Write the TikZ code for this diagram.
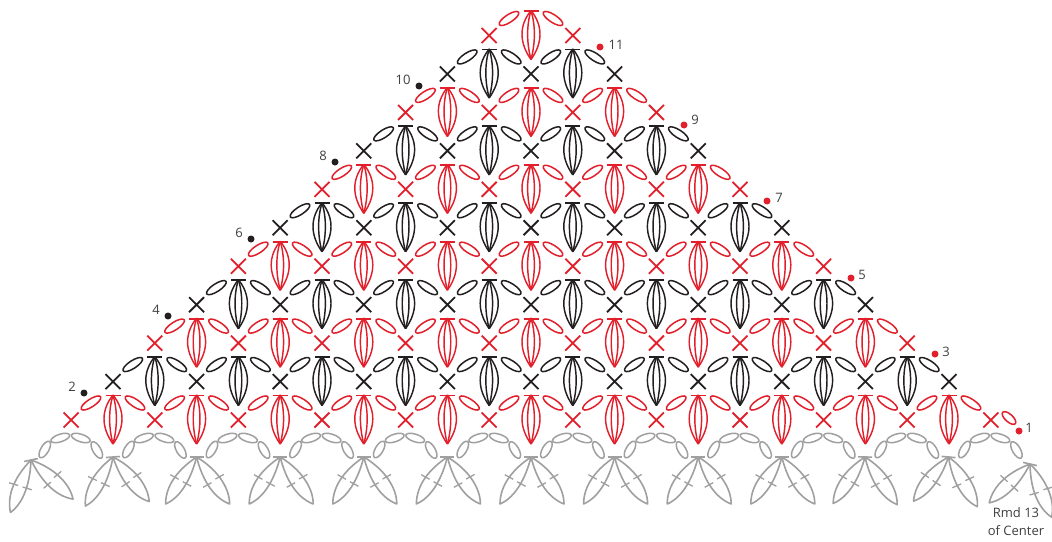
\documentclass[tikz,border=0pt]{standalone}
\usepackage{fontspec}
\setmainfont{Open Sans}
\definecolor{cred}{HTML}{E2202C}
\definecolor{cblack}{HTML}{231F20}
\definecolor{cgrey}{HTML}{A0A0A0}
\definecolor{ctext}{HTML}{404040}
\newcommand{\Cluster}[3]{%
  \begin{scope}[shift={(#1,#2)},draw=#3,line width=1.45pt,line join=round]
    \draw[line width=1.8pt] (-7.5,0.5) -- (7.5,0.5);
    \draw (0,0) .. controls (-12,15) and (-12,32) .. (0,49);
    \draw (0,0) .. controls (12,15) and (12,32) .. (0,49);
    \draw (0,0) .. controls (-4.5,15) and (-4.5,32) .. (0,49);
    \draw (0,0) .. controls (4.5,15) and (4.5,32) .. (0,49);
    \draw[line width=1.5pt] (-22,8) ellipse [x radius=11.5,y radius=3.9,rotate=33];
    \draw[line width=1.5pt] (22,8) ellipse [x radius=11.5,y radius=3.9,rotate=-33];
  \end{scope}}
\newcommand{\Cross}[3]{%
  \draw[draw=#3,line width=1.8pt] (#1-7.5,#2-7.5) -- (#1+7.5,#2+7.5) (#1-7.5,#2+7.5) -- (#1+7.5,#2-7.5);}
\newcommand{\Arch}[1]{%
  \begin{scope}[shift={(#1,433)},draw=cgrey,line width=1.5pt]
    \draw (-26,16.5) ellipse [x radius=9.3,y radius=4,rotate=60];
    \draw (-10.5,5) ellipse [x radius=9.8,y radius=3.8,rotate=18];
    \draw (10,5) ellipse [x radius=9.8,y radius=3.8,rotate=-18];
    \draw (26,17) ellipse [x radius=9.3,y radius=4,rotate=-60];
  \end{scope}}
\newcommand{\Fan}[3]{%
  \begin{scope}[shift={(#1,#2)},rotate=#3,draw=cgrey,line width=1.6pt,line join=round]
    \draw (-7,0) -- (7,0);
    \draw (0,0) .. controls (-18,12) and (-31,28) .. (-31,47) .. controls (-15,40) and (-5,20) .. (0,0);
    \draw (0,0) .. controls (20,12) and (33,30) .. (33,47) .. controls (15,40) and (5,20) .. (0,0);
    \draw[line width=1.3pt] (-26.2,17.7) -- (-17.8,22.3) (-13.8,24.7) -- (-5.4,29.3);
    \draw[line width=1.3pt] (27.2,17.4) -- (18.8,22) (14.9,25.7) -- (6.5,30.3);
  \end{scope}}
\newcommand{\Mark}[5]{%
  \fill[#3] (#1,#2) circle [radius=3.5];
  \node[text=ctext,font=\fontsize{13}{13}\selectfont,inner sep=0pt] (m#5) at (#4) {#5};}
\begin{document}
\begin{tikzpicture}[x=1pt,y=-1pt]
\useasboundingbox (0,0) rectangle (1052,541);
\clip (0,0) rectangle (1052,541);
\fill[white] (0,0) rectangle (1052,541);
% rows of clusters and crosses
\foreach \r in {1,...,11}{
  \pgfmathtruncatemacro{\n}{12-\r}
  \pgfmathsetmacro{\yy}{395-38.45*(\r-1)}
  \pgfmathsetmacro{\yx}{\yy+25}
  \pgfmathtruncatemacro{\odd}{mod(\r,2)}
  \ifnum\odd=1 \def\cc{cred}\else\def\cc{cblack}\fi
  \foreach \k in {1,...,\n}{
    \pgfmathsetmacro{\xx}{531+83.6*(\k-1-(\n-1)/2)}
    \Cluster{\xx}{\yy}{\cc}
  }
  \foreach \k in {0,...,\n}{
    \pgfmathsetmacro{\xc}{531+83.6*(\k-\n/2)}
    \Cross{\xc}{\yx}{\cc}
  }
}
% extra oval of round 1
\draw[cred,line width=1.5pt] (1009,418) ellipse [x radius=8.5,y radius=3.8,rotate=-42];
% grey base
\foreach \k in {0,...,11}{
  \pgfmathsetmacro{\xa}{70.8+83.6*\k}
  \Arch{\xa}
}
\Fan{31}{460}{12}
\Fan{113}{457}{4}
\foreach \k in {1,...,8}{
  \pgfmathsetmacro{\xf}{113+83.6*\k}
  \Fan{\xf}{457}{0}
}
\Fan{865}{457}{-1}
\Fan{948.5}{457}{-5}
\Fan{1030}{464}{-13}
% round marks
\Mark{1019}{431}{cred}{1029,428}{1}
\Mark{84}{393}{cblack}{72,387}{2}
\Mark{935}{354}{cred}{946,352}{3}
\Mark{168}{316}{cblack}{156,310}{4}
\Mark{851}{278}{cred}{862,275}{5}
\Mark{251}{239}{cblack}{239,233}{6}
\Mark{767}{201}{cred}{779,198}{7}
\Mark{335}{162}{cblack}{323,156}{8}
\Mark{684}{125}{cred}{695,120}{9}
\Mark{419}{86}{cblack}{403,80}{10}
\Mark{600}{47}{cred}{616,45}{11}
\node[text=ctext,font=\fontsize{13}{13}\selectfont,inner sep=0pt] (rmd) at (1016,513) {Rmd 13};
\node[text=ctext,font=\fontsize{13}{13}\selectfont,inner sep=0pt] (center) at (1016,531) {of Center};
\end{tikzpicture}
\end{document}
